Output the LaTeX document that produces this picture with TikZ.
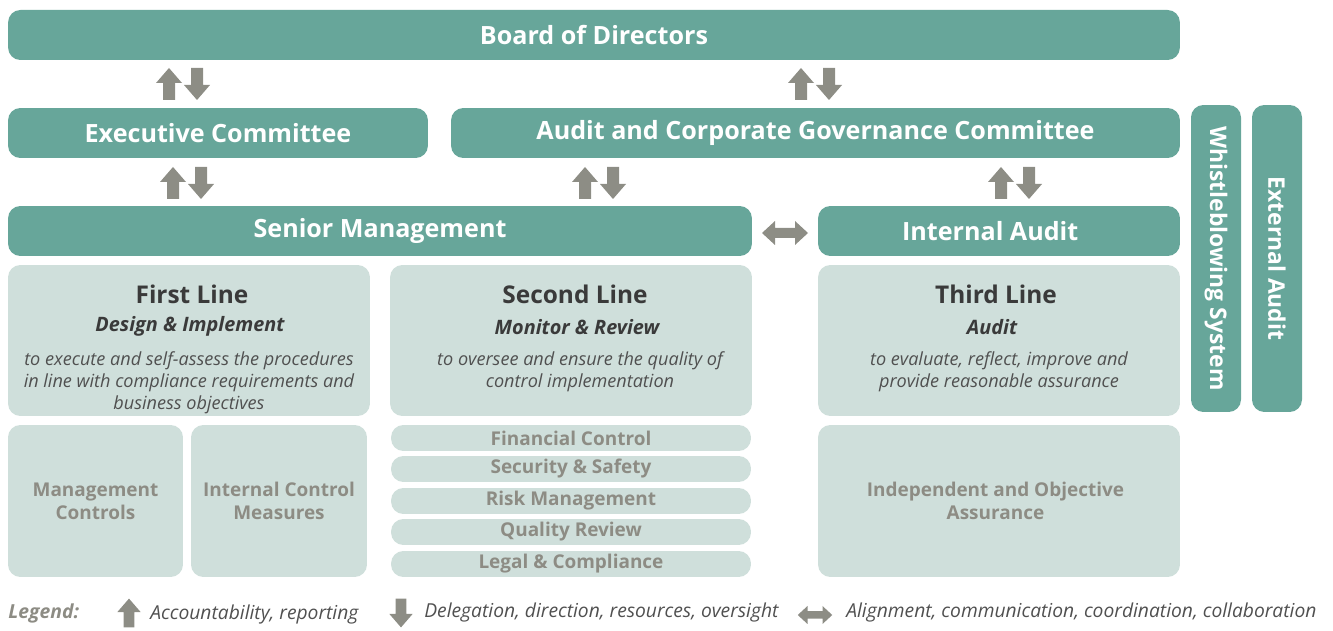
\documentclass[tikz,border=0pt]{standalone}
\usepackage{fontspec}
\setmainfont{Open Sans}
\usetikzlibrary{positioning}

\definecolor{darkbox}{RGB}{103,166,154}
\definecolor{lightbox}{RGB}{207,223,219}
\definecolor{greytext}{RGB}{141,140,132}
\definecolor{arrowgrey}{RGB}{141,141,133}
\definecolor{darktext}{RGB}{58,58,58}
\definecolor{bodytext}{RGB}{80,80,80}

\tikzset{
  darkbar/.style={fill=darkbox, rounded corners=7pt, inner sep=0pt, text=white,
    font=\bfseries\fontsize{14.3}{16}\selectfont},
  sidebar/.style={darkbar, rotate=-90, minimum width=6.14cm, minimum height=1cm,
    font=\bfseries\fontsize{13}{15}\selectfont},
  lightbar/.style={fill=lightbox, rounded corners=7pt, inner sep=0pt, text=greytext,
    align=center, font=\bfseries\fontsize{10.8}{13}\selectfont},
  linetitle/.style={text=darktext, font=\bfseries\fontsize{13.9}{16}\selectfont},
  linesub/.style={text=darktext, font=\bfseries\itshape\fontsize{11.3}{13}\selectfont},
  linedesc/.style={text=bodytext, align=center, inner sep=0pt,
    font=\itshape\fontsize{10.3}{12.5}\selectfont},
  legendtext/.style={text=bodytext, anchor=west, inner sep=0pt,
    font=\itshape\fontsize{10.95}{13}\selectfont},
  uparrow/.pic={\fill[arrowgrey] (0,-16) -- (13,-1) -- (6,-1) -- (6,16) -- (-6,16) -- (-6,-1) -- (-13,-1) -- cycle;},
  downarrow/.pic={\fill[arrowgrey] (0,16) -- (13,1) -- (6,1) -- (6,-16) -- (-6,-16) -- (-6,1) -- (-13,1) -- cycle;},
  twoway/.pic={\fill[arrowgrey] (-23,0) -- (-10,-12) -- (-10,-5) -- (10,-5) -- (10,-12) -- (23,0)
    -- (10,12) -- (10,5) -- (-10,5) -- (-10,12) -- cycle;},
  updown/.pic={\pic at (-14,0) {uparrow}; \pic at (14,0) {downarrow};}
}

\begin{document}
\begin{tikzpicture}[x=0.02cm, y=-0.02cm]
\useasboundingbox (0,0) rectangle (1333,631);

% top levels
\node[darkbar, minimum width=23.44cm, minimum height=1cm] (board) at (594,35) {Board of Directors};
\node[darkbar, minimum width=8.4cm, minimum height=1cm] (exec) at (218,133) {Executive Committee};
\node[darkbar, minimum width=14.58cm, minimum height=1cm] (acgc) at (815.5,133) {Audit and Corporate Governance Committee};
\node[darkbar, minimum width=14.88cm, minimum height=1cm] (senior) at (380,231) {Senior Management};
\node[darkbar, minimum width=7.24cm, minimum height=1cm] (intaudit) at (999,231) {\hspace*{-10pt}Internal Audit};

% side columns
\node[sidebar] (whistle) at (1216,258.5) {Whistleblowing System};
\node[sidebar] (extaudit) at (1277,258.5) {External Audit};

% three lines
\node[lightbar, minimum width=7.24cm, minimum height=3.02cm] (first) at (189,340.5) {};
\node[lightbar, minimum width=7.24cm, minimum height=3.02cm] (second) at (571,340.5) {};
\node[lightbar, minimum width=7.24cm, minimum height=3.02cm] (third) at (999,340.5) {};

\node[linetitle] (firsttitle) at (192,294) {First Line};
\node[linesub] (firstsub) at (190,326) {Design \& Implement};
\node[linedesc, anchor=north] (firstdesc) at (189,351) {to execute and self-assess the procedures\\in line with compliance requirements and\\business objectives};

\node[linetitle] (secondtitle) at (575,294) {Second Line};
\node[linesub] (secondsub) at (577,327) {Monitor \& Review};
\node[linedesc, anchor=north] (seconddesc) at (580,351) {to oversee and ensure the quality of\\control implementation};

\node[linetitle] (thirdtitle) at (996,294) {Third Line};
\node[linesub] (thirdsub) at (992,327) {Audit};
\node[linedesc, anchor=north] (thirddesc) at (999,351) {to evaluate, reflect, improve and\\provide reasonable assurance};

% bottom boxes
\node[lightbar, minimum width=3.5cm, minimum height=3.04cm] (mgmtctrl) at (95.5,501) {Management\\Controls};
\node[lightbar, minimum width=3.52cm, minimum height=3.04cm] (icm) at (279,501) {Internal Control\\Measures};
\node[lightbar, minimum width=7.2cm, minimum height=0.52cm] (fin) at (571,438) {Financial Control};
\node[lightbar, minimum width=7.2cm, minimum height=0.52cm] (sec) at (571,469) {Security \& Safety};
\node[lightbar, minimum width=7.2cm, minimum height=0.52cm] (risk) at (571,501) {Risk Management};
\node[lightbar, minimum width=7.2cm, minimum height=0.52cm] (qual) at (571,532) {Quality Review};
\node[lightbar, minimum width=7.2cm, minimum height=0.52cm] (legal) at (571,564) {Legal \& Compliance};
\node[lightbar, minimum width=7.24cm, minimum height=3.04cm] (indep) at (999,501) {\hspace*{-4pt}Independent and Objective\\\hspace*{-4pt}Assurance};

% arrows
\pic at (183,84) {updown};
\pic at (815,84) {updown};
\pic at (187,183) {updown};
\pic at (599,183) {updown};
\pic at (1015,183) {updown};
\pic at (785,233) {twoway};

% legend
\node[legendtext, text=greytext, font=\bfseries\itshape\fontsize{11}{13}\selectfont] (legend) at (8,613) {Legend:};
\pic[scale=0.9] at (129,613) {uparrow};
\node[legendtext] (acc) at (150,615) {Accountability, reporting};
\pic[scale=0.9] at (401,613) {downarrow};
\node[legendtext] (del) at (424,613) {Delegation, direction, resources, oversight};
\pic[scale=0.75] at (815,615) {twoway};
\node[legendtext] (ali) at (846,613) {Alignment, communication, coordination, collaboration};
\end{tikzpicture}
\end{document}
